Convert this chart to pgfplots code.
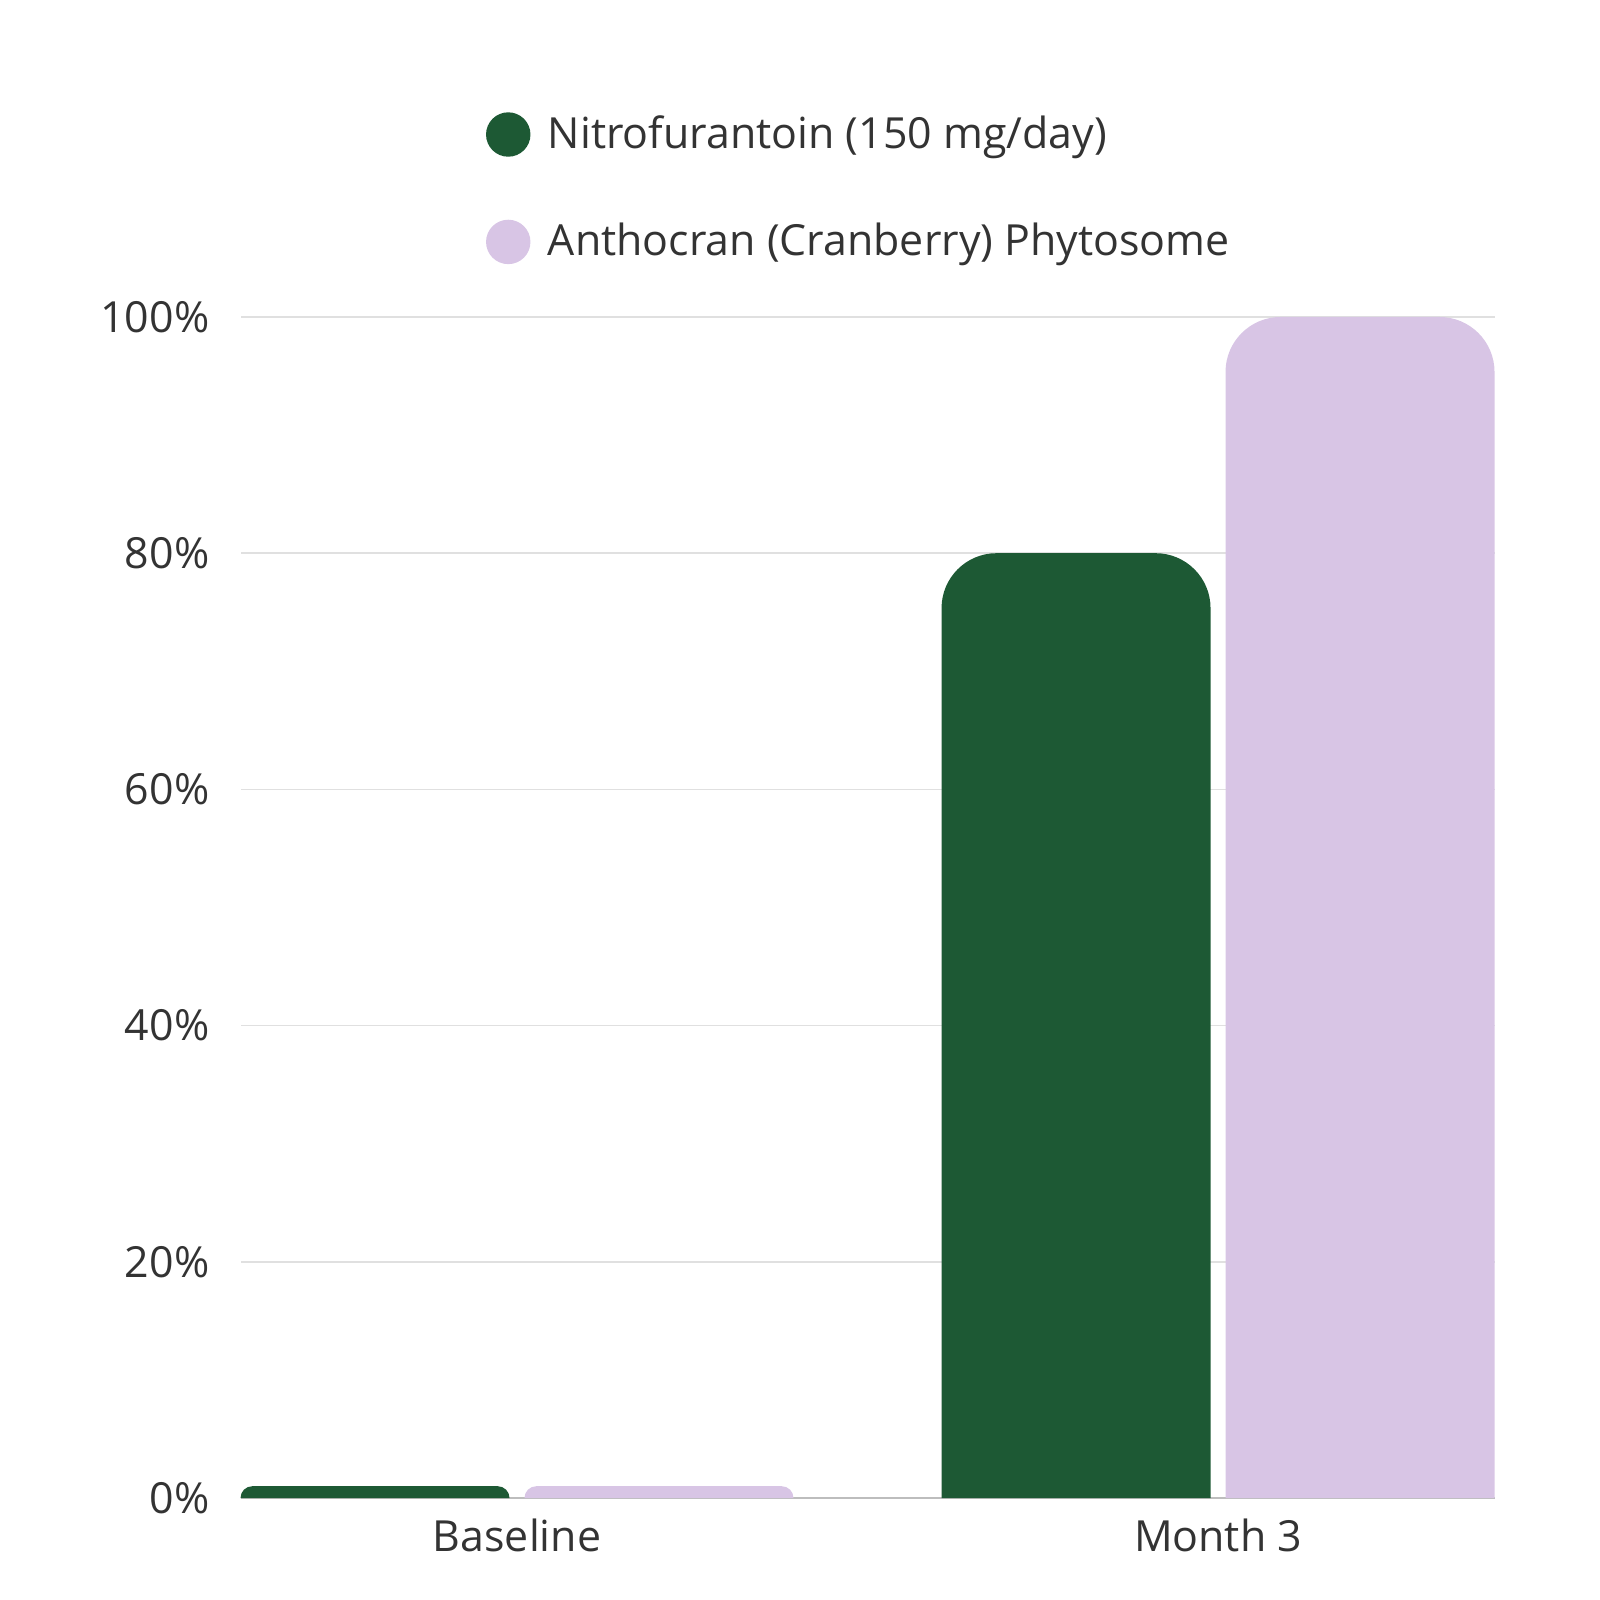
\documentclass[border=0pt]{standalone}
\usepackage{fontspec}
\setmainfont{Open Sans}
\usepackage{pgfplots}
\pgfplotsset{compat=1.18}

\definecolor{nitro}{HTML}{1D5934}
\definecolor{antho}{HTML}{D8C5E5}
\definecolor{txt}{HTML}{333333}
\definecolor{gridc}{HTML}{E0E0E0}
\definecolor{axisc}{HTML}{BDBDBD}

% bar with rounded top corners, hung below the data point
% #1 mark name, #2 horizontal shift from the category (pt)
\newcommand\declareroundbar[2]{%
  \pgfdeclareplotmark{#1}{%
    \pgfmathsetmacro\bh{max(\rawy*3.3603,0.01)}%
    \pgfmathsetmacro\rr{min(15.65,\bh)}%
    \pgfmathsetmacro\xl{#2-38.27}%
    \pgfmathsetmacro\xr{#2+38.27}%
    \pgfpathmoveto{\pgfpoint{\xl pt}{-\bh pt}}%
    \pgfpathlineto{\pgfpoint{\xl pt}{-\rr pt}}%
    \pgfpatharc{180}{90}{\rr pt}%
    \pgfpathlineto{\pgfpoint{\xr pt-\rr pt}{0pt}}%
    \pgfpatharc{90}{0}{\rr pt}%
    \pgfpathlineto{\pgfpoint{\xr pt}{-\bh pt}}%
    \pgfpathclose
    \pgfusepathqfill
  }}
\declareroundbar{barleft}{-40.40}
\declareroundbar{barright}{40.40}

\begin{document}
\begin{tikzpicture}
\path (0,0) rectangle (16cm,16cm);
\begin{axis}[
    at={(2.41cm,1.02cm)}, anchor=south west,
    scale only axis,
    width=12.54cm,
    height=11.81cm,
    xmin=-0.3937, xmax=1.3951,
    ymin=0, ymax=100,
    xtick={0,1},
    xticklabels={Baseline, Month 3},
    ytick={0,20,40,60,80,100},
    yticklabels={0\%,20\%,40\%,60\%,80\%,100\%},
    ymajorgrids,
    grid style={gridc, line width=0.45pt},
    axis x line*=bottom,
    axis y line*=left,
    x axis line style={axisc, line width=0.45pt, -},
    y axis line style={draw=none},
    major tick length=0pt,
    tick style={draw=none},
    ticklabel style={font=\fontsize{12.2pt}{14.6pt}\selectfont, text=txt},
    yticklabel style={inner sep=0pt, xshift=-0.31cm},
    xticklabel style={inner sep=0pt, yshift=-0.2cm},
    /pgf/number format/assume math mode=true,
    clip=false,
    legend cell align=left,
    legend style={
        at={(0.1954,1.1733)}, anchor=north west,
        draw=none, fill=none,
        inner sep=0pt, outer sep=0pt,
        row sep=0.63cm, column sep=0.175cm,
        nodes={inner sep=0pt},
        font=\fontsize{12.2pt}{14.6pt}\selectfont, text=txt
    },
    visualization depends on={rawy \as \rawy},
]

% Nitrofurantoin (150 mg/day)
\addplot[
    scatter, only marks, mark=barleft,
    scatter/use mapped color={draw=none, fill=nitro},
    legend image code/.code={\fill[nitro] (0.215cm,0cm) circle (0.215cm);},
] coordinates {
    (0,1)
    (1,80)
};

% Anthocran (Cranberry) Phytosome
\addplot[
    scatter, only marks, mark=barright,
    scatter/use mapped color={draw=none, fill=antho},
    legend image code/.code={\fill[antho] (0.215cm,0cm) circle (0.215cm);},
] coordinates {
    (0,1)
    (1,100)
};

\legend{Nitrofurantoin (150 mg/day), Anthocran (Cranberry) Phytosome}

\end{axis}
\end{tikzpicture}
\end{document}
